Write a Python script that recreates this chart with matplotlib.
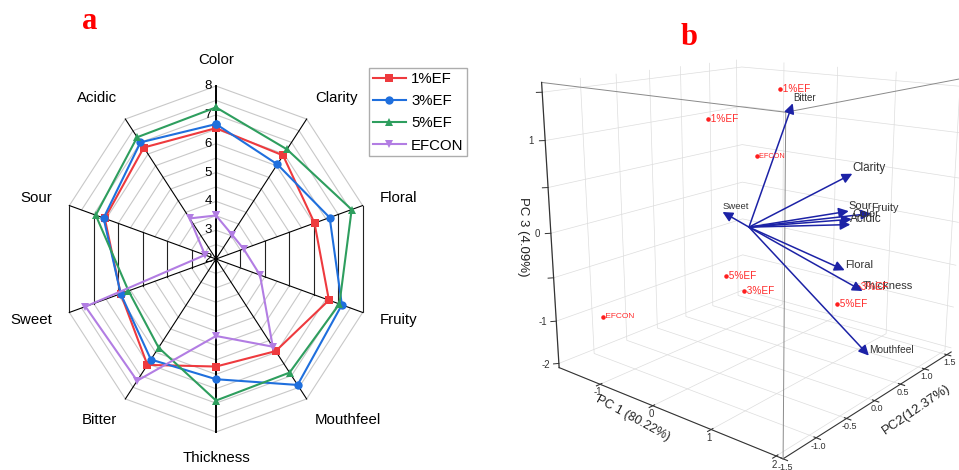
import numpy as np
import matplotlib
matplotlib.use('Agg')
import matplotlib.pyplot as plt
from matplotlib.patches import FancyArrowPatch
from matplotlib.lines import Line2D

plt.rcParams['font.family'] = ['Liberation Sans', 'DejaVu Sans']

# ---------------- data: panel a (radar) ----------------
categories = ['Color', 'Clarity', 'Floral', 'Fruity', 'Mouthfeel',
              'Thickness', 'Bitter', 'Sweet', 'Sour', 'Acidic']
ef1 = [6.54, 6.44, 6.03, 6.62, 5.95, 5.73, 6.54, 5.90, 6.55, 6.78]
ef3 = [6.68, 6.06, 6.65, 7.15, 7.40, 6.17, 6.31, 5.90, 6.60, 7.00]
ef5 = [7.26, 6.70, 7.55, 7.05, 6.87, 6.91, 5.80, 5.58, 6.92, 7.22]
efcon = [3.51, 3.05, 3.13, 3.80, 5.76, 4.67, 7.22, 7.34, 2.45, 3.74]
series_names = ['1%EF', '3%EF', '5%EF', 'EFCON']
radial_ticks = [2, 3, 4, 5, 6, 7, 8]

# ---------------- data: panel b (3D PCA biplot) ----------------
sample_names = ['1%EF', '1%EF', 'EFCON', '5%EF', '3%EF', 'EFCON', '3%EF', '5%EF']
pc1_scores = [-0.20, -0.50, -0.50, 0.50, 0.80, -1.60, 1.20, 1.30]
pc2_scores = [0.72, -0.20, 0.62, -0.83, -0.82, -1.01, 0.72, 0.20]
pc3_scores = [1.42, 1.17, 0.64, -0.26, -0.37, -1.05, -0.67, -0.71]
sample_font = [7.2, 7.2, 5.3, 7.2, 7.2, 6, 7.2, 7.2]

load_names = ['Bitter', 'Clarity', 'Sour', 'Fruity', 'Color', 'Acidic',
              'Floral', 'Thickness', 'Mouthfeel', 'Sweet']
pc1_load = [0.44, 1.41, 1.37, 1.71, 1.42, 1.40, 1.33, 1.62, 1.75, -0.82]
pc2_load = [0.30, 0.30, 0.30, 0.30, 0.30, 0.30, 0.30, 0.30, 0.30, 0.30]
pc3_load = [1.35, 0.70, 0.30, 0.32, 0.22, 0.16, -0.35, -0.53, -1.23, 0.00]
load_font = [7, 8.5, 8, 7.8, 8, 8.6, 8, 8, 7.3, 6.8]

pc1_lim = (-1.85, 2.1)
pc2_lim = (-1.5, 1.6)
pc3_lim = (-1.55, 1.6)
pc1_ticks = [-1, 0, 1, 2]
pc2_ticks = [-1.5, -1.0, -0.5, 0.0, 0.5, 1.0, 1.5]
pc3_ticks = [-1.5, -1.0, -0.5, 0.0, 0.5, 1.0, 1.5]

colors = ['#EE3A3E', '#1F6FDD', '#2E9E5E', '#B27DE3']
markers = ['s', 'o', '^', 'v']
msizes = [5.6, 6.0, 6.3, 6.3]

W, H = 959, 470
fig = plt.figure(figsize=(W / 100, H / 100), dpi=100)

# ======================= panel a =======================
cx, cy = 216, 259          # centre in pixels (from top)
sx, sy = 25.7, 28.83       # pixels per unit
span = 7
axa = fig.add_axes([(cx - span * sx) / W, (H - cy - span * sy) / H,
                    2 * span * sx / W, 2 * span * sy / H])
axa.set_xlim(-span, span)
axa.set_ylim(-span, span)
axa.axis('off')

n = len(categories)
theta = np.arange(n) * 2 * np.pi / n
rmin = radial_ticks[0]
rmax = radial_ticks[-1]


def to_xy(vals, ang):
    r = np.asarray(vals, float) - rmin
    return r * np.sin(ang), r * np.cos(ang)


black_sectors = {2, 7}
levels = np.arange(rmin + 0.5, rmax + 0.01, 0.5)
for L in levels:
    for k in range(n):
        ang = np.array([theta[k], theta[(k + 1) % n]])
        xs, ys = to_xy([L, L], ang)
        if k in black_sectors:
            if abs(L - round(L)) < 1e-9:
                axa.plot(xs, ys, color='#222222', lw=0.8, zorder=1)
        else:
            axa.plot(xs, ys, color='#C8C8C8', lw=0.8, zorder=1)

for k in range(n):
    xs, ys = to_xy([rmin, rmax], np.array([theta[k], theta[k]]))
    vertical = abs(np.sin(theta[k])) < 1e-6
    axa.plot(xs, ys, color='black', lw=1.4 if vertical else 0.8, zorder=2)

for v in radial_ticks:
    axa.text(-0.15, v - rmin, str(v), ha='right', va='center', fontsize=9.5, zorder=3)

for vals, name, col, mk, ms in zip([ef1, ef3, ef5, efcon], series_names, colors, markers, msizes):
    v = list(vals) + [vals[0]]
    ang = np.append(theta, theta[0])
    xs, ys = to_xy(v, ang)
    axa.plot(xs, ys, color=col, lw=1.5, marker=mk, markersize=ms,
             markeredgewidth=0, label=name, zorder=4, clip_on=False)

R_lab = 6.9
for k, name in enumerate(categories):
    s, c = np.sin(theta[k]), np.cos(theta[k])
    if abs(s) < 1e-6:
        axa.text(0, R_lab * c, name, ha='center', va='center', fontsize=10.8)
    elif s > 0:
        axa.text(R_lab * s - 0.2, R_lab * c, name, ha='left', va='center', fontsize=10.8)
    else:
        axa.text(R_lab * s + 0.2, R_lab * c, name, ha='right', va='center', fontsize=10.8)

handles = [Line2D([], [], color=c, lw=1.5, marker=m, markersize=ms, markeredgewidth=0)
           for c, m, ms in zip(colors, markers, msizes)]
leg = axa.legend(handles, series_names, loc='upper left',
                 bbox_to_anchor=(369 / W, 1 - 68 / H), bbox_transform=fig.transFigure,
                 fontsize=10.8, frameon=True, fancybox=False, edgecolor='#999999',
                 borderpad=0.25, labelspacing=0.55, handlelength=2.2,
                 handletextpad=0.35, borderaxespad=0)
leg.get_frame().set_linewidth(1.0)

fig.text(90 / W, 1 - 29 / H, 'a', color='red', fontsize=22, fontweight='bold',
         family='Liberation Serif', ha='center', va='baseline')
fig.text(689 / W, 1 - 45 / H, 'b', color='red', fontsize=22, fontweight='bold',
         family='Liberation Serif', ha='center', va='baseline')

# ======================= panel b =======================
side = 487.4
bcx, bcy = 752.4, 232.1
axb = fig.add_axes([(bcx - side / 2) / W, (H - bcy - side / 2) / H, side / W, side / H],
                   projection='3d')
axb.set_facecolor('none')
axb.view_init(elev=15.54, azim=-50.62)
axb.set_proj_type('persp', focal_length=0.358)
axb.set_box_aspect((1, 1, 1))


def proj(xs, ys, zs, M):
    xs = np.atleast_1d(np.asarray(xs, float))
    ys = np.atleast_1d(np.asarray(ys, float))
    zs = np.atleast_1d(np.asarray(zs, float))
    v = np.vstack([xs, ys, zs, np.ones(len(xs))])
    w = M @ v
    return w[0] / w[3], w[1] / w[3], w[2] / w[3]


class Arrow3D(FancyArrowPatch):
    def __init__(self, xs, ys, zs, *args, **kwargs):
        super().__init__((0, 0), (0, 0), *args, **kwargs)
        self._verts3d = xs, ys, zs

    def do_3d_projection(self, renderer=None):
        xs3d, ys3d, zs3d = self._verts3d
        xs, ys, zs = proj(xs3d, ys3d, zs3d, self.axes.M)
        self.set_positions((xs[0], ys[0]), (xs[1], ys[1]))
        return np.min(zs)


x0, x1 = pc1_lim
y0, y1 = pc2_lim
z0, z1 = pc3_lim
axb.set_xticks(pc1_ticks)
axb.set_xticklabels(['%d' % v for v in pc1_ticks])
axb.set_yticks(pc2_ticks)
axb.set_yticklabels(['%.1f' % v for v in pc2_ticks])
axb.set_zticks(pc3_ticks)
axb.set_zticklabels([''] * len(pc3_ticks))
axb.set_xlim(pc1_lim)
axb.set_ylim(pc2_lim)
axb.set_zlim(pc3_lim)
Mview = axb.get_proj()


def label_at(x, y, z, s, **kw):
    px, py, _ = proj([x], [y], [z], Mview)
    axb.text2D(px[0], py[0], s, transform=axb.transData, zorder=20, **kw)


arrow_col = '#1C22A6'
for nm_, a, b_, c_, fs in zip(load_names, pc1_load, pc2_load, pc3_load, load_font):
    arr = Arrow3D([0, a], [0, b_], [0, c_], arrowstyle='-|>', mutation_scale=15,
                  lw=1.1, color=arrow_col, shrinkA=0, shrinkB=0)
    axb.add_artist(arr)
    label_at(a, b_, c_ + 0.06, nm_, fontsize=fs, color='#333333', ha='left', va='center')

axb.scatter(pc1_scores, pc2_scores, pc3_scores, s=5, color='#FF1E1E', depthshade=False)
for nm_, a, b_, c_, fs in zip(sample_names, pc1_scores, pc2_scores, pc3_scores, sample_font):
    label_at(a, b_, c_, ' ' + nm_, fontsize=fs, color='#FF2A2A', ha='left', va='center')

# box edges in front, and the PC3 axis on the left edge
edge_kw = dict(color='#8A8A8A', lw=0.7)
axb.plot([x1, x1], [y0, y0], [z0, z1], **edge_kw)
axb.plot([x0, x1], [y0, y0], [z1, z1], **edge_kw)
axb.plot([x1, x1], [y0, y1], [z1, z1], **edge_kw)
axb.plot([x0, x0], [y0, y0], [z0, z1], color='#333333', lw=0.9)

ztl = ['%d' % v if v == int(v) else ('%.0f' % v if v == pc3_ticks[0] else '')
       for v in pc3_ticks]
d_tick, d_lab = 0.045, 0.11
for v, lab in zip(pc3_ticks, ztl):
    axb.plot([x0, x0 - d_tick], [y0, y0 - d_tick], [v, v], color='#333333', lw=0.7)
    if lab:
        label_at(x0 - d_lab, y0 - d_lab, v, lab, fontsize=7, color='#333333',
                 ha='center', va='center')

axb.set_xlim(pc1_lim)
axb.set_ylim(pc2_lim)
axb.set_zlim(pc3_lim)
axb.tick_params(axis='x', labelsize=7, colors='#333333', pad=-6.5)
axb.tick_params(axis='y', labelsize=6.5, colors='#333333', pad=-6.2)
axb.tick_params(axis='z', colors=(0, 0, 0, 0))
for axis in (axb.xaxis, axb.yaxis, axb.zaxis):
    axis.set_pane_color((1, 1, 1, 0))
    axis.pane.set_edgecolor('#8A8A8A')
    axis.pane.set_linewidth(0.7)
    axis._axinfo['grid'].update({'color': '#DDDDDD', 'linewidth': 0.5})
    axis.line.set_color('#333333')
    axis.line.set_linewidth(0.8)
    axis.label.set_visible(False)
    axis.offsetText.set_visible(False)
axb.zaxis.line.set_color((0, 0, 0, 0))

fig.text(633 / W, 1 - 418 / H, 'PC 1 (80.22%)', rotation=-28.6, fontsize=9,
         ha='center', va='center', color='#222222', rotation_mode='anchor')
fig.text(916 / W, 1 - 410 / H, 'PC2(12.37%)', rotation=34.4, fontsize=9.5,
         ha='center', va='center', color='#222222', rotation_mode='anchor')
fig.text(523 / W, 1 - 237 / H, 'PC 3 (4.09%)', rotation=-90, fontsize=9.5,
         ha='center', va='center', color='#222222', rotation_mode='anchor')

fig.savefig('out.png', dpi=100)
